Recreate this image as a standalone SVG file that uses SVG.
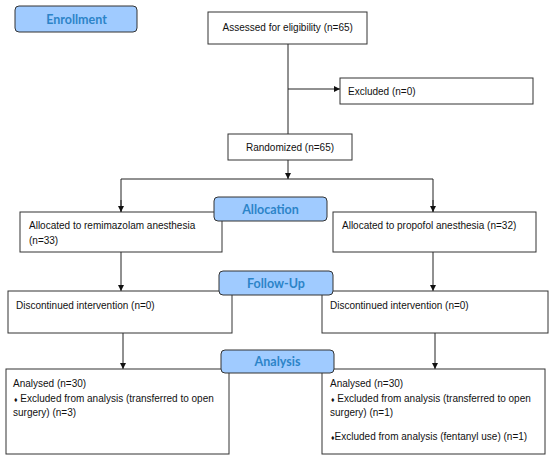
<svg xmlns="http://www.w3.org/2000/svg" width="550" height="458" viewBox="0 0 550 458">
<style>
.box{fill:#fff;stroke:#333;stroke-width:1}
.lbl{fill:#a0cbff;stroke:#333;stroke-width:1}
.t{font-family:"Liberation Sans",Arial,sans-serif;font-size:10px;fill:#111}
.h{font-family:Lato,"Noto Sans",sans-serif;font-weight:bold;font-size:12.5px;fill:#2c84c8;text-anchor:middle}
.ln{fill:none;stroke:#222;stroke-width:1}
</style>
<defs>
<marker id="ah" markerWidth="6" markerHeight="6" refX="6" refY="3" orient="auto" markerUnits="userSpaceOnUse">
<path d="M0,0 L6,3 L0,6 z" fill="#111"/>
</marker>
</defs>
<g id="connectors">
<path class="ln" d="M288,44 V134"/>
<path class="ln" d="M288,89 H340" marker-end="url(#ah)"/>
<path class="ln" d="M288,160 V179" marker-end="url(#ah)"/>
<path class="ln" d="M121,212 V179 H433 V212" />
<path class="ln" d="M121,200 V212" marker-end="url(#ah)"/>
<path class="ln" d="M433,200 V212" marker-end="url(#ah)"/>
<path class="ln" d="M121,252 V291" marker-end="url(#ah)"/>
<path class="ln" d="M433,252 V291" marker-end="url(#ah)"/>
<path class="ln" d="M123,333 V369" marker-end="url(#ah)"/>
<path class="ln" d="M435,333 V369" marker-end="url(#ah)"/>
</g>
<g id="assessed"><rect class="box" x="208" y="12" width="159" height="32"/><text class="t" x="222.5" y="31">Assessed for eligibility (n=65)</text></g>
<g id="excluded"><rect class="box" x="340" y="78" width="193" height="26"/><text class="t" x="348" y="94.5">Excluded (n=0)</text></g>
<g id="randomized"><rect class="box" x="228" y="134" width="124" height="26"/><text class="t" x="290" y="151" text-anchor="middle">Randomized (n=65)</text></g>
<g id="alloc-left"><rect class="box" x="20" y="212" width="202" height="40"/><text class="t" x="29" y="229">Allocated to remimazolam anesthesia</text><text class="t" x="29" y="244">(n=33)</text></g>
<g id="alloc-right"><rect class="box" x="333" y="212" width="203" height="40"/><text class="t" x="342" y="229">Allocated to propofol anesthesia (n=32)</text></g>
<g id="disc-left"><rect class="box" x="8" y="291" width="224" height="42"/><text class="t" x="16" y="308.5">Discontinued intervention (n=0)</text></g>
<g id="disc-right"><rect class="box" x="322" y="291" width="226" height="42"/><text class="t" x="330" y="308.5">Discontinued intervention (n=0)</text></g>
<g id="analysis-left"><rect class="box" x="6" y="369" width="223" height="85"/>
<text class="t" x="13" y="386.5">Analysed (n=30)</text>
<text class="t" x="14" y="402"><tspan font-size="7">♦</tspan> Excluded from analysis (transferred to open</text>
<text class="t" x="13" y="416">surgery) (n=3)</text></g>
<g id="analysis-right"><rect class="box" x="322" y="369" width="223" height="85"/>
<text class="t" x="330" y="386.5">Analysed (n=30)</text>
<text class="t" x="331" y="402"><tspan font-size="7">♦</tspan> Excluded from analysis (transferred to open</text>
<text class="t" x="330" y="416">surgery) (n=1)</text>
<text class="t" x="331" y="440"><tspan font-size="7">♦</tspan>Excluded from analysis (fentanyl use) (n=1)</text></g>
<g id="enrollment"><rect class="lbl" x="15" y="6" width="122" height="26" rx="4"/><text class="h" x="76.5" y="23.5">Enrollment</text></g>
<g id="allocation"><rect class="lbl" x="214" y="197" width="113" height="24" rx="4"/><text class="h" x="270.5" y="213.5">Allocation</text></g>
<g id="followup"><rect class="lbl" x="219" y="271" width="114" height="24" rx="4"/><text class="h" x="276" y="287.5">Follow-Up</text></g>
<g id="analysis"><rect class="lbl" x="221" y="350" width="113" height="23" rx="4"/><text class="h" x="277.5" y="366">Analysis</text></g>
</svg>
